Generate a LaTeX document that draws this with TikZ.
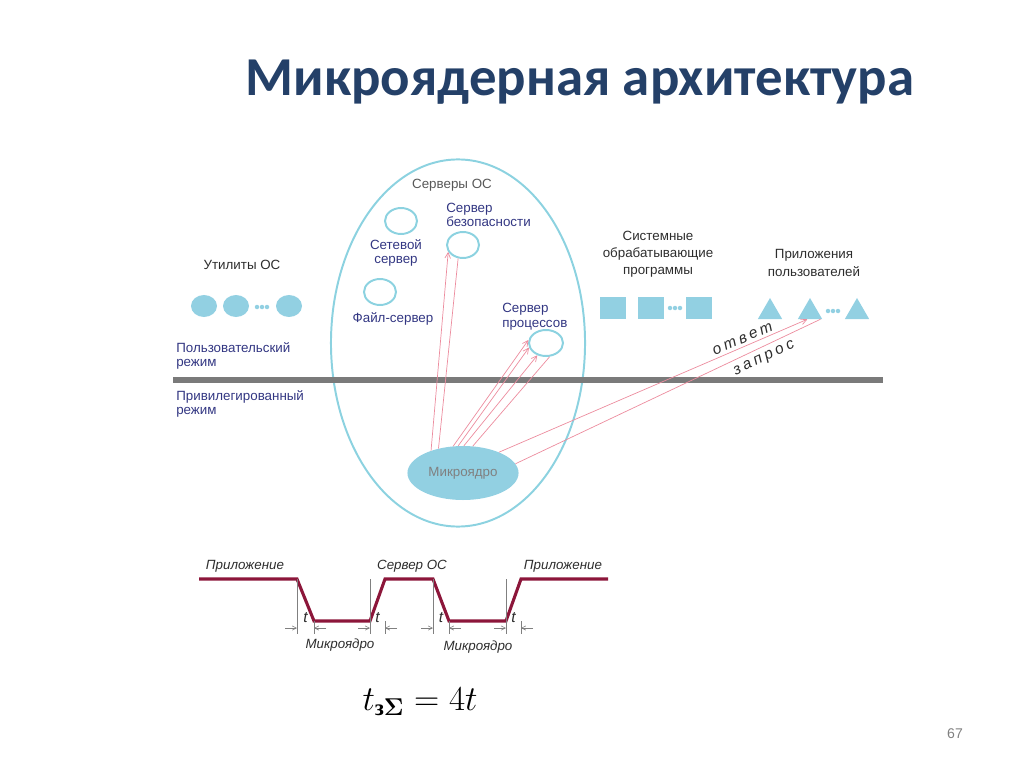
\documentclass[tikz,border=0pt]{standalone}
\usepackage{amsmath}
\usepackage{fontspec}
\setmainfont{Liberation Serif}
\setsansfont{Liberation Sans}
\newfontfamily\titlefont{Carlito}
\newfontfamily\spacedfont[LetterSpace=22]{Liberation Sans}
\usepackage{xcolor}
\usetikzlibrary{arrows.meta, shapes.geometric, positioning}
\definecolor{titleblue}{RGB}{36,64,104}
\definecolor{labelblue}{RGB}{50,54,130}
\definecolor{ovalblue}{RGB}{140,210,224}
\definecolor{shapeblue}{RGB}{146,208,226}
\definecolor{linkpink}{RGB}{236,140,158}
\definecolor{barmaroon}{RGB}{140,22,58}
\definecolor{bargray}{RGB}{122,122,122}
\definecolor{textgray}{RGB}{45,45,45}
\tikzset{
  server/.style={
    ellipse, draw=ovalblue, line width=1.4pt,
    minimum width=0.8cm, minimum height=0.65cm, inner sep=0pt
  },
  caption/.style={
    font=\sffamily\fontsize{9.5}{10.5}\selectfont, text=labelblue,
    align=center, inner sep=0pt
  },
  utility/.style={ellipse, fill=shapeblue, minimum width=0.65cm, minimum height=0.55cm, inner sep=0pt},
  sysprog/.style={rectangle, fill=shapeblue, minimum width=0.65cm, minimum height=0.55cm, inner sep=0pt},
  userapp/.style={regular polygon, regular polygon sides=3, fill=shapeblue, minimum size=0.7cm, inner sep=0pt},
  link/.style={draw=linkpink, line width=0.5pt},
  arrow/.style={link, -{Straight Barb[length=4pt,width=4pt]}},
  message/.style={font=\spacedfont\itshape\fontsize{11}{13}\selectfont, text=textgray, inner sep=1pt},
  tick/.style={draw=gray, line width=0.4pt},
  dimarrow/.style={draw=gray, line width=0.4pt, -{Straight Barb[length=3pt,width=3pt]}},
  timing/.style={font=\sffamily\itshape\fontsize{9.5}{11}\selectfont, text=textgray, inner sep=0pt}
}

\begin{document}
\begin{tikzpicture}[x=0.025cm, y=-0.025cm]
  \useasboundingbox (0,0) rectangle (1024,767);

  \node[font=\titlefont\bfseries\fontsize{39}{44}\selectfont, text=titleblue] (title) at (580,82) {Микроядерная архитектура};

  % servers of the OS
  \node[ellipse, draw=ovalblue, line width=1.4pt, minimum width=6.35cm, minimum height=9.175cm] (servers) at (458,343) {};
  \node[caption, text=textgray!80] (serverslbl) at (452,185) {Серверы ОС};

  \node[server] (netsrv) at (401,221) {};
  \node[caption] (netlbl) at (396,253) {Сетевой\\сервер};
  \node[server] (filesrv) at (380,292) {};
  \node[caption] (filelbl) at (393,319) {Файл-сервер};
  \node[server] (secsrv) at (463,245) {};
  \node[caption, align=left, anchor=west] (seclbl) at (446,215) {Сервер\\безопасности};
  \node[server, minimum width=0.85cm] (procsrv) at (546,343) {};
  \node[caption, align=left, anchor=west] (proclbl) at (502,317) {Сервер\\процессов};

  \node[ellipse, fill=shapeblue, minimum width=2.35cm, minimum height=1.35cm,
        font=\sffamily\fontsize{9.5}{11}\selectfont, text=gray] (kernel) at (463,473) {Микроядро};

  % mode border
  \draw[bargray, line width=4.3pt] (173,380) -- (883,380);
  \node[caption, align=left, anchor=west] (usermode) at (176,356) {Пользовательский\\режим};
  \node[caption, align=left, anchor=west] (privmode) at (176,404) {Привилегированный\\режим};

  % utilities
  \node[caption, text=textgray] (utillbl) at (242,265) {Утилиты ОС};
  \node[utility] (util1) at (204,306) {};
  \node[utility] (util2) at (236,306) {};
  \node[utility] (util3) at (289,306) {};
  \foreach \x in {257,262,267} \fill[shapeblue] (\x,307) circle[radius=1.6pt];

  % system programs
  \node[caption, text=textgray, font=\sffamily\fontsize{9.5}{12}\selectfont] (syslbl) at (658,254) {Системные\\обрабатывающие\\программы};
  \node[sysprog] (sys1) at (613,308) {};
  \node[sysprog] (sys2) at (651,308) {};
  \node[sysprog] (sys3) at (699,308) {};
  \foreach \x in {670,675,680} \fill[shapeblue] (\x,308) circle[radius=1.6pt];

  % user applications
  \node[caption, text=textgray, font=\sffamily\fontsize{9.5}{13}\selectfont] (applbl) at (814,263) {Приложения\\пользователей};
  \node[userapp] (app1) at (770,312) {};
  \node[userapp] (app2) at (810,312) {};
  \node[userapp] (app3) at (857,312) {};
  \foreach \x in {828,833,838} \fill[shapeblue] (\x,311) circle[radius=1.6pt];

  % messages through the kernel
  \draw[arrow] (kernel.145) -- (secsrv.205);
  \draw[link] (secsrv.250) -- (kernel.135);
  \draw[arrow] (kernel.110) -- (procsrv.170);
  \draw[arrow] (kernel.100) -- (procsrv.195);
  \draw[arrow] (kernel.88) -- (procsrv.235);
  \draw[link] (procsrv.285) -- (kernel.70);
  \draw[arrow] (kernel.30) -- node[message, pos=0.8, sloped, above=1pt] (answer) {ответ} (app2.250);
  \draw[link] (kernel.10) -- node[message, pos=0.8, sloped, below=3pt] (request) {запрос} (app2.325);

  % timing
  \draw[barmaroon, line width=2.2pt] (199,579) -- (297,579) -- (314,621) -- (370,621) -- (385,579)
    -- (433,579) -- (449,621) -- (506,621) -- (521,579) -- (608,579);
  \foreach \a/\b in {297/314, 370/385, 433/449, 506/521} {
    \draw[tick] (\a,579) -- (\a,634);
    \draw[tick] (\b,621) -- (\b,634);
    \draw[dimarrow] (\a-12,628) -- (\a,628);
    \draw[dimarrow] (\b+12,628) -- (\b,628);
    \node[timing, font=\sffamily\itshape\fontsize{11}{12}\selectfont] at ({(\a+\b)/2},618) {t};
  }
  \node[timing] (app_a) at (245,566) {Приложение};
  \node[timing] (os_b) at (412,566) {Сервер ОС};
  \node[timing] (app_c) at (563,566) {Приложение};
  \node[timing] (core_a) at (340,645) {Микроядро};
  \node[timing] (core_b) at (478,647) {Микроядро};

  \node[font=\fontsize{23}{26}\selectfont] (total) at (420,702) {$t_{\text{\bfseries з}\boldsymbol{\Sigma}} = 4t$};

  \node[font=\sffamily\fontsize{10}{12}\selectfont, text=gray] (page) at (955,734) {67};
\end{tikzpicture}
\end{document}
